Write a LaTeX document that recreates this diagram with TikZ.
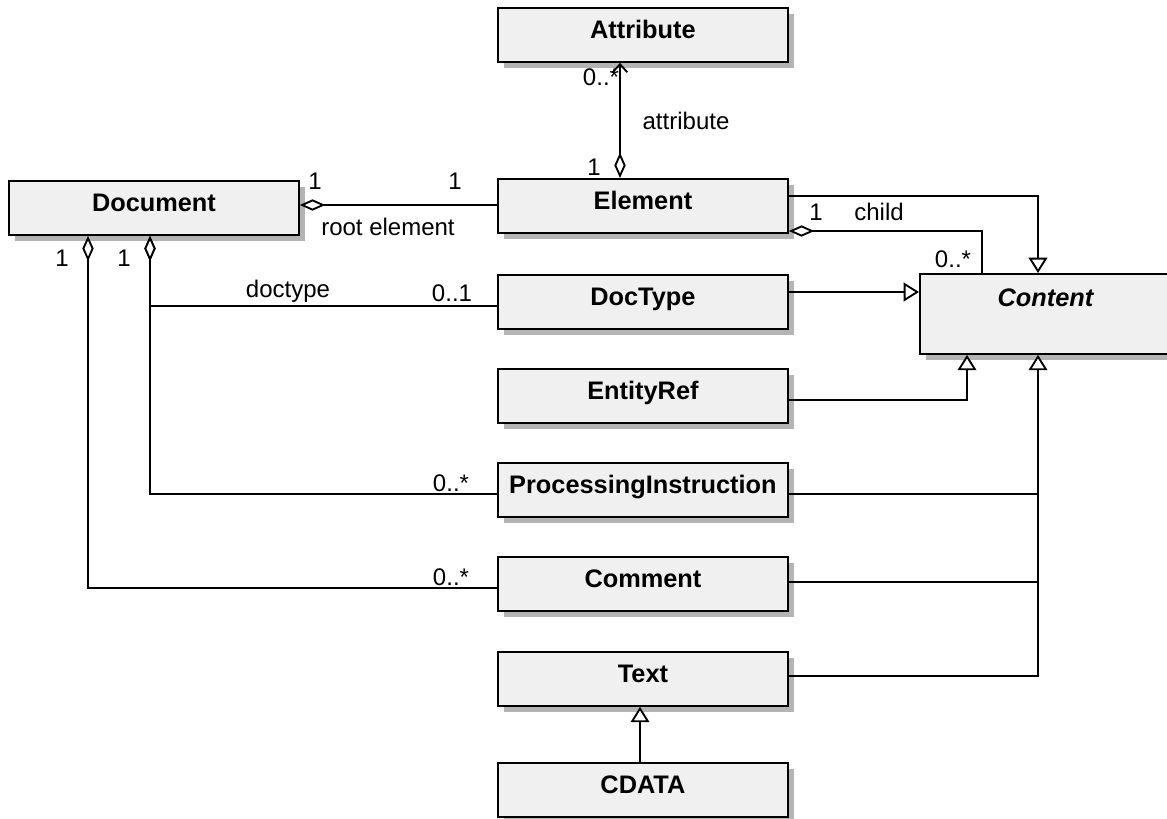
\documentclass[tikz,border=0pt]{standalone}
\usepackage{fontspec}
\setmainfont{Liberation Sans}
\usetikzlibrary{arrows.meta,shadows,calc}
\definecolor{boxfill}{RGB}{240,240,240}
\definecolor{boxshadow}{RGB}{180,180,180}

\begin{document}
\begin{tikzpicture}[x=0.75pt,y=-0.75pt,
  cls/.style={draw, line width=1.4pt, fill=boxfill, anchor=north west,
    minimum width=217.5pt, inner xsep=0pt, inner ysep=0pt,
    text height=23pt, text depth=17.5pt,
    font=\fontsize{19}{22}\selectfont\bfseries,
    drop shadow={shadow xshift=4.5pt, shadow yshift=-4.5pt, fill=boxshadow, opacity=1}},
  ln/.style={line width=1.4pt},
  lab/.style={font=\fontsize{18}{20}\selectfont, inner sep=0pt},
  agg/.style={ln, {Diamond[fill=white,length=19pt,width=8.5pt]}-},
  gen/.style={ln, -{Triangle[fill=white,length=11.5pt,width=14pt]}},
]
\useasboundingbox (0,0) rectangle (1167,818);

% classes
\node[cls] (Attribute) at (497,7) {Attribute};
\node[cls] (Document) at (8,180) {Document};
\node[cls] (Element) at (497,178) {Element};
\node[cls] (DocType) at (497,274) {DocType};
\node[cls] (EntityRef) at (497,368) {EntityRef};
\node[cls] (PI) at (497,462) {ProcessingInstruction};
\node[cls] (Comment) at (497,556) {Comment};
\node[cls] (Text) at (497,651) {Text};
\node[cls] (CDATA) at (497,762) {CDATA};
\node[cls, minimum width=188.25pt, text height=24.75pt, text depth=35.25pt,
  font=\fontsize{19}{22}\selectfont\bfseries\itshape] (Content) at (919,273) {Content};

% routing rails
\coordinate (ax) at (620,0);
\coordinate (gx) at (1038,0);
\coordinate (cx) at (982,0);
\coordinate (ex) at (967,0);
\coordinate (d1) at (88,0);
\coordinate (d2) at (150,0);
\coordinate (tx) at (640,0);
\coordinate (rooty) at (0,205);
\coordinate (geny) at (0,196);
\coordinate (childy) at (0,231);
\coordinate (dtgy) at (0,292);
\coordinate (dty) at (0,306);
\coordinate (piy) at (0,494);
\coordinate (cmy) at (0,588);
\coordinate (cmry) at (0,582);
\coordinate (ery) at (0,400);
\coordinate (txy) at (0,676);

% associations
\draw[ln, {Diamond[fill=white,length=19pt,width=8.5pt]}-{Straight Barb[length=6pt,width=11pt]}]
  (Element.north -| ax) -- (Attribute.south -| ax);
\draw[agg] (Document.east |- rooty) -- (Element.west |- rooty);
\draw[agg] (Element.east |- childy) -| (Content.north -| cx);
\draw[agg] (Document.south -| d2) |- (DocType.west |- dty);
\draw[agg] (Document.south -| d2) |- (PI.west |- piy);
\draw[agg] (Document.south -| d1) |- (Comment.west |- cmy);

% generalizations
\draw[gen] (Element.east |- geny) -| (Content.north -| gx);
\draw[gen] (DocType.east |- dtgy) -- (Content.west |- dtgy);
\draw[gen] (EntityRef.east |- ery) -| (Content.south -| ex);
\draw[gen] (Text.east |- txy) -| (Content.south -| gx);
\draw[ln] (PI.east |- piy) -- (gx |- piy);
\draw[ln] (Comment.east |- cmry) -- (gx |- cmry);
\draw[gen] (CDATA.north -| tx) -- (Text.south -| tx);

% role names and multiplicities
\node[lab] (m1) at (601,77) {0..*};
\node[lab] (r1) at (686,121) {attribute};
\node[lab] (m2) at (594,167) {1};
\node[lab] (m3) at (315,181) {1};
\node[lab] (m4) at (455,181) {1};
\node[lab] (r2) at (388,227) {root element};
\node[lab] (m5) at (62,258) {1};
\node[lab] (m6) at (124,258) {1};
\node[lab] (r3) at (288,291) {doctype};
\node[lab] (m7) at (452,293) {0..1};
\node[lab] (m8) at (451,483) {0..*};
\node[lab] (m9) at (451,577) {0..*};
\node[lab] (m10) at (816,212) {1};
\node[lab] (r4) at (879,212) {child};
\node[lab] (m11) at (953,259) {0..*};
\end{tikzpicture}
\end{document}
